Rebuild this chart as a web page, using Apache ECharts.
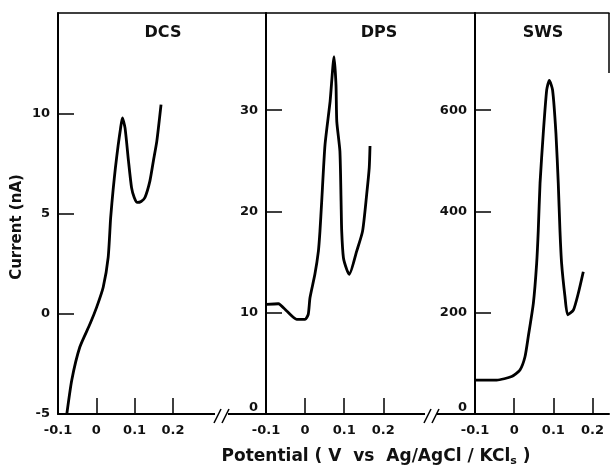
<!DOCTYPE html>
<html><head><meta charset="utf-8">
<script src="https://cdn.jsdelivr.net/npm/echarts@6/dist/echarts.min.js"></script>
<style>html,body{margin:0;padding:0;background:#fff}#c{width:610px;height:468px}</style>
</head><body><div id="c"></div>
<script>
const panelTitles = ['DCS', 'DPS', 'SWS'];
const xTickValues = [-0.1, 0, 0.1, 0.2];
const xTickLabels = ['-0.1', '0', '0.1', '0.2'];
const dcsYTicks = [-5, 0, 5, 10];
const dpsYTicks = [0, 10, 20, 30];
const swsYTicks = [0, 200, 400, 600];

const dcsX = [-0.077,-0.064,-0.043,-0.016,0.001,0.018,0.031,0.0375,0.044,0.050,0.057,0.063,0.068,0.075,0.084,0.092,0.099,0.107,0.117,0.127,0.140,0.149,0.158,0.169];
const dcsY = [-5.0,-3.3,-1.66,-0.49,0.33,1.32,2.81,4.8,6.2,7.3,8.4,9.2,9.77,9.27,7.62,6.29,5.80,5.55,5.6,5.80,6.63,7.62,8.61,10.43];

const dpsX = [-0.099,-0.0685,-0.047,-0.0215,0.000,0.008,0.0125,0.025,0.034,0.038,0.0425,0.051,0.064,0.074,0.079,0.081,0.089,0.092,0.0936,0.098,0.1064,0.113,0.132,0.147,0.1575,0.164,0.166];
const dpsY = [10.83,10.89,10.17,9.35,9.35,9.84,11.48,13.79,16.09,18.06,21.03,26.62,30.9,35.3,32.5,28.9,25.96,21.0,18.06,15.43,14.28,13.79,16.09,18.06,21.69,24.3,26.46];

const swsX = [-0.098,-0.0446,-0.0064,0.0148,0.0276,0.036,0.049,0.0574,0.0615,0.066,0.0742,0.083,0.0896,0.098,0.1066,0.1125,0.1168,0.121,0.1296,0.1365,0.151,0.1635,0.1764];
const swsY = [67,67,74,87,113,153,219,298,363,456,554,640,659,640,554,456,363,298,232,196,205,238,281];

const yAxisName = 'Current (nA)';
const xAxisName = 'Potential ( V  vs  Ag/AgCl / KCl';
const xAxisNameSub = 's';
const xAxisNameEnd = ' )';

const FONT = 'DejaVu Sans';
const INK = '#000';
const chart = echarts.init(document.getElementById('c'));

const grids = [
  {left: 58, top: 13, width: 208, height: 401},
  {left: 266, top: 13, width: 209, height: 401},
  {left: 475, top: 13, width: 134, height: 401}
];
const xMax = [0.443, 0.4345, 0.242];
const yRanges = [[-5, 15], [0, 39.6], [0, 792]];
const yTicks = [dcsYTicks, dpsYTicks, swsYTicks];
const seriesXY = [[dcsX, dcsY], [dpsX, dpsY], [swsX, swsY]];

const labelStyle = {color: '#111', fontFamily: FONT, fontSize: 13, fontWeight: 'bold'};
const xAxes = [], yAxes = [], series = [];
grids.forEach((g, i) => {
  xAxes.push({
    type: 'value', gridIndex: i, min: -0.1, max: xMax[i], interval: 0.1,
    axisLine: {show: true, onZero: false, lineStyle: {color: INK, width: 2}},
    axisTick: {show: true, inside: true, length: 16, customValues: xTickValues.slice(1), lineStyle: {color: INK, width: 1.5}},
    axisLabel: Object.assign({show: true, customValues: xTickValues, margin: 10,
      formatter: v => { let k = 0, d = 1e9; xTickValues.forEach((t, j) => { if (Math.abs(t - v) < d) { d = Math.abs(t - v); k = j; } }); return xTickLabels[k]; }}, labelStyle),
    splitLine: {show: false}
  });
  xAxes.push({
    type: 'value', gridIndex: i, position: 'top', min: -0.1, max: xMax[i],
    axisLine: {show: true, onZero: false, lineStyle: {color: INK, width: 1.5}},
    axisTick: {show: false}, axisLabel: {show: false}, splitLine: {show: false}
  });
  const yt = yTicks[i];
  const raiseZero = i > 0;
  yAxes.push({
    type: 'value', gridIndex: i, min: yRanges[i][0], max: yRanges[i][1],
    axisLine: {show: true, onZero: false, lineStyle: {color: INK, width: 2}},
    axisTick: {show: true, inside: true, length: 16, customValues: yt.slice(1), lineStyle: {color: INK, width: 1.5}},
    axisLabel: Object.assign({show: true, customValues: yt, margin: 8,
      formatter: v => { const s = String(Math.round(v)); return (raiseZero && Math.round(v) === 0) ? '{z|' + s + '}' : s; },
      rich: {z: {color: '#111', fontFamily: FONT, fontSize: 13, fontWeight: 'bold', padding: [0, 0, 12, 0]}}}, labelStyle),
    splitLine: {show: false}
  });
  series.push({
    type: 'line', xAxisIndex: i * 2, yAxisIndex: i,
    data: seriesXY[i][0].map((x, j) => [x, seriesXY[i][1][j]]),
    showSymbol: false, smooth: 0.2, clip: false,
    lineStyle: {color: INK, width: 2.8}
  });
});

const titleCenters = [163, 379, 543];
const graphic = [];
panelTitles.forEach((t, i) => graphic.push({
  type: 'text', x: titleCenters[i], y: 33,
  style: {text: t, fill: '#111', font: 'bold 16px "DejaVu Sans"', textAlign: 'center', textVerticalAlign: 'middle'}
}));
// axis breaks
[[215, 228], [425, 437]].forEach(b => {
  graphic.push({type: 'rect', shape: {x: b[0], y: 409, width: b[1] - b[0], height: 9}, style: {fill: '#fff'}, z: 100});
  graphic.push({type: 'line', shape: {x1: b[0] - 1, y1: 423, x2: b[0] + 6, y2: 409}, style: {stroke: INK, lineWidth: 1.6}, z: 101});
  graphic.push({type: 'line', shape: {x1: b[0] + 7, y1: 423, x2: b[0] + 14, y2: 409}, style: {stroke: INK, lineWidth: 1.6}, z: 101});
});
graphic.push({type: 'line', shape: {x1: 609, y1: 13, x2: 609, y2: 73}, style: {stroke: INK, lineWidth: 1.5}});
graphic.push({
  type: 'text', x: 17, y: 227, rotation: Math.PI / 2,
  style: {text: yAxisName, fill: '#111', font: 'bold 15px "DejaVu Sans"', textAlign: 'center', textVerticalAlign: 'middle'}
});
graphic.push({
  type: 'text', x: 376, y: 457,
  style: {text: '{a|' + xAxisName + '}{s|' + xAxisNameSub + '}{a|' + xAxisNameEnd + '}', textAlign: 'center', textVerticalAlign: 'middle',
    rich: {a: {fill: '#111', font: 'bold 17px "DejaVu Sans"'}, s: {fill: '#111', font: 'bold 11px "DejaVu Sans"', padding: [9, 0, 0, 0]}}}
});

chart.setOption({
  animation: false,
  backgroundColor: '#fff',
  grid: grids,
  xAxis: xAxes,
  yAxis: yAxes,
  series: series,
  graphic: graphic
});
</script></body></html>
